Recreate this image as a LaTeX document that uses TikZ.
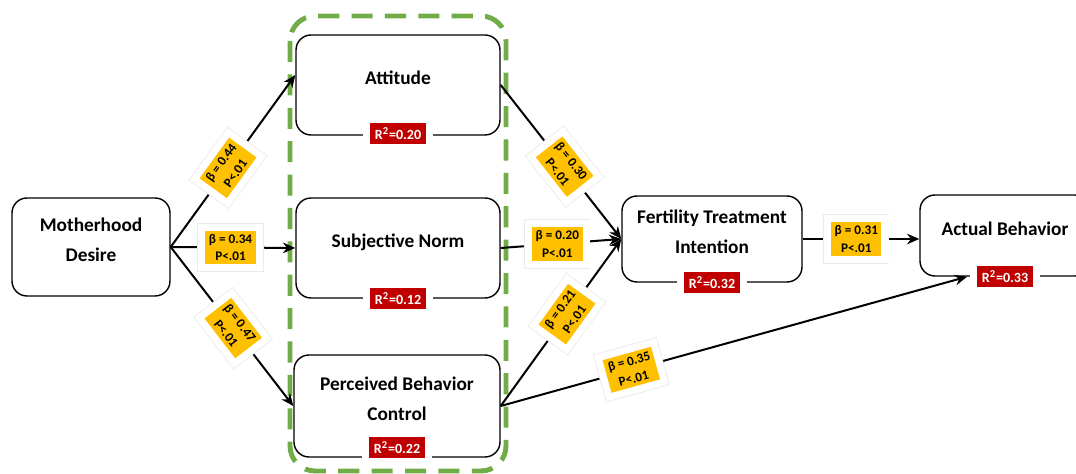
\documentclass[tikz,border=0pt]{standalone}
\usepackage{fontspec}
\setmainfont{Carlito}
\usetikzlibrary{arrows.meta}
\definecolor{betabg}{HTML}{FFC000}
\definecolor{rsqbg}{HTML}{C00000}
\definecolor{grpgreen}{HTML}{70AD47}
\tikzset{
  box/.style={draw, line width=0.8pt, rounded corners=0.3cm, inner sep=0pt, align=center,
    font=\fontsize{11}{17}\selectfont\bfseries, text depth=8pt},
  beta/.style={fill=betabg, preaction={draw=black!8, line width=9pt},
    preaction={draw=white, line width=8pt}, inner sep=2pt, align=center,
    font=\fontsize{7.5}{10}\selectfont\bfseries},
  rsq/.style={fill=rsqbg, text=white, preaction={draw=white, line width=9pt},
    inner sep=2.5pt, font=\fontsize{8}{9}\selectfont\bfseries},
  link/.style={-{Stealth[length=7pt, width=6pt]}, line width=0.4mm},
  group/.style={draw=grpgreen, line width=2.8pt, dash pattern=on 12pt off 7pt, rounded corners=0.5cm}
}
\begin{document}
\begin{tikzpicture}
  \useasboundingbox (0,0) rectangle (21.52,-9.48);

  % constructs of the theory
  \draw[group] (5.8,-0.32) rectangle (10.12,-9.42);

  \node[box, minimum width=3.16cm, minimum height=1.96cm] (md) at (1.82,-4.94) {Motherhood\\Desire};
  \node[box, minimum width=4.08cm, minimum height=2.0cm] (att) at (7.96,-1.70) {Attitude};
  \node[box, minimum width=4.08cm, minimum height=2.0cm] (sn) at (7.96,-4.96) {Subjective Norm};
  \node[box, minimum width=4.12cm, minimum height=2.04cm] (pbc) at (7.94,-8.12) {Perceived Behavior\\Control};
  \node[box, minimum width=3.6cm, minimum height=1.72cm] (fti) at (14.24,-4.78) {Fertility Treatment\\Intention};
  \node[box, minimum width=3.4cm, minimum height=1.62cm] (ab) at (20.1,-4.71) {Actual Behavior};

  % explained variance
  \node[rsq] (attr2) at ([yshift=0.05cm]att.south) {R\textsuperscript{2}=0.20};
  \node[rsq] (snr2) at (sn.south) {R\textsuperscript{2}=0.12};
  \node[rsq] (pbcr2) at ([yshift=0.2cm]pbc.south) {R\textsuperscript{2}=0.22};
  \node[rsq] (ftir2) at (fti.south) {R\textsuperscript{2}=0.32};
  \node[rsq] (abr2) at (ab.south) {R\textsuperscript{2}=0.33};

  % paths
  \draw[link] (md.east) -- ([yshift=0.2cm]att.west)
    node[beta, sloped, pos=0.46] (betaatt) {β = 0.44\\P<.01};
  \draw[link] (md.east) -- (sn.west)
    node[beta, pos=0.48] (betasn) {β = 0.34\\P<.01};
  \draw[link] (md.east) -- (pbc.west)
    node[beta, sloped, pos=0.51] (betapbc) {β = 0.47\\P<.01};

  \draw[link] (att.east) -- (fti.west)
    node[beta, sloped, pos=0.53] (attfti) {β = 0.30\\P<.01};
  \draw[link] (sn.east) -- (fti.west)
    node[beta, pos=0.47] (snfti) {β = 0.20\\P<.01};
  \draw[link] (pbc.east) -- (fti.west)
    node[beta, sloped, pos=0.55] (pbcfti) {β = 0.21\\P<.01};

  \draw[link] (fti.east) -- (fti.east -| ab.west)
    node[beta, pos=0.46] (ftiab) {β = 0.31\\P<.01};
  \draw[link] (pbc.east) -- ([xshift=-0.2cm]abr2.west)
    node[beta, sloped, pos=0.28] (pbcab) {β = 0.35\\P<.01};
\end{tikzpicture}
\end{document}
